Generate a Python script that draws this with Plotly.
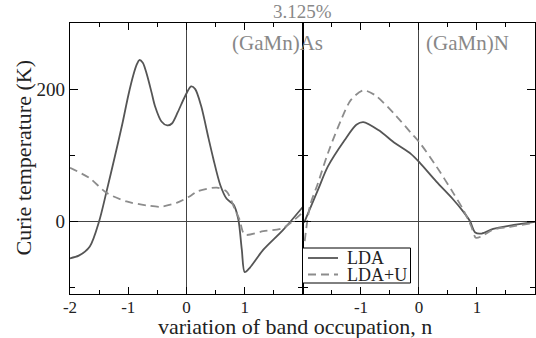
import plotly.graph_objects as go

# (GaMn)As panel
as_x = [-2.0, -1.85, -1.66, -1.5, -1.37, -1.23, -1.1, -1.0, -0.91, -0.85, -0.81, -0.75,
        -0.68, -0.6, -0.54, -0.43, -0.33, -0.25, -0.15, -0.02, 0.08, 0.15, 0.25, 0.38,
        0.46, 0.58, 0.69, 0.81, 0.89, 0.95, 1.0, 1.09, 1.32, 1.66, 2.0]
as_lda = [-56, -52, -38, 0, 46, 98, 148, 190, 222, 238, 244, 240,
          222, 195, 174, 151, 145, 148, 165, 190, 204, 200, 175, 125,
          95, 55, 34, 25, 3, -43, -77, -70, -43, -13, 22]
as_u_x = [-2.0, -1.66, -1.37, -1.03, -0.68, -0.45, -0.17, 0.06, 0.18, 0.52, 0.69, 0.83,
          0.91, 1.0, 1.32, 1.66, 2.0]
as_ldau = [81, 65, 43, 30, 24, 22, 28, 38, 45, 51, 45, 18,
           3, -20, -15, -10, 14]

# (GaMn)N panel
n_x = [-1.98, -1.74, -1.57, -1.28, -1.08, -0.96, -0.7, -0.41, -0.14, 0.02, 0.3, 0.59,
       0.76, 0.88, 0.97, 1.08, 1.28, 1.57, 2.0]
n_lda = [-2, 48, 83, 123, 146, 150, 138, 118, 102, 88, 60, 33,
         15, 0, -17, -18.5, -11.5, -6.5, -1]
n_u_x = [-1.97, -1.88, -1.74, -1.57, -1.34, -1.17, -0.96, -0.76, -0.41, -0.14, 0.02, 0.3,
         0.59, 0.76, 0.9, 0.98, 1.08, 1.28, 1.57, 2.0]
n_ldau = [-30, 23, 58, 103, 154, 184, 198, 191, 161, 134, 118, 83,
          43, 18, -7.5, -25, -22.7, -12.5, -8.5, -2]

x_ticks = [-2, -1, 0, 1, 2]
x_labels_left = ["-2", "-1", "0", "1", ""]
x_labels_right = ["", "-1", "0", "1", "2"]
x_minor = [-1.5, -0.5, 0.5, 1.5]
y_ticks = [0, 200]
y_labels = ["0", "200"]
y_minor = [-100, 100]
series_names = ["LDA", "LDA+U"]

FONT = "Liberation Serif"
SOLID = "#555555"
DASHED = "#8c8c8c"
DASH = "8px,5px"

line_solid = dict(color=SOLID, width=1.8, shape="spline", smoothing=0.8)
line_dashed = dict(color=DASHED, width=1.8, dash=DASH, shape="spline", smoothing=0.8)

fig = go.Figure()
fig.add_trace(go.Scatter(x=as_x, y=as_lda, mode="lines", name=series_names[0],
                         line=line_solid, xaxis="x", yaxis="y"))
fig.add_trace(go.Scatter(x=as_u_x, y=as_ldau, mode="lines", name=series_names[1],
                         line=line_dashed, xaxis="x", yaxis="y"))
fig.add_trace(go.Scatter(x=n_x, y=n_lda, mode="lines", name=series_names[0],
                         line=line_solid, xaxis="x2", yaxis="y2"))
fig.add_trace(go.Scatter(x=n_u_x, y=n_ldau, mode="lines", name=series_names[1],
                         line=line_dashed, xaxis="x2", yaxis="y2"))

split = 0.501
common_x = dict(range=[-2, 2], tickmode="array", tickvals=x_ticks,
                ticks="inside", ticklen=7, tickwidth=1, tickcolor="black",
                ticklabelstandoff=-3,
                showline=True, linecolor="black", linewidth=1.2, mirror="allticks",
                showgrid=False, zeroline=True, zerolinecolor="#444444", zerolinewidth=1,
                minor=dict(tickvals=x_minor, ticks="inside", ticklen=4, tickcolor="black"),
                tickfont=dict(family=FONT, size=17, color="#222222"), fixedrange=True)
common_y = dict(range=[-110, 300], tickmode="array", tickvals=y_ticks,
                ticks="inside", ticklen=8, tickwidth=1, tickcolor="black",
                showline=True, linecolor="black", linewidth=1.2, mirror="allticks",
                showgrid=False, zeroline=True, zerolinecolor="#444444", zerolinewidth=1,
                minor=dict(tickvals=y_minor, ticks="inside", ticklen=5, tickcolor="black"),
                tickfont=dict(family=FONT, size=19, color="#222222"), fixedrange=True)


def px_x(p):
    return (p - 70) / 465.0


def px_y(p):
    return (294 - p) / 271.0


# Framed key in the lower-left corner of the nitride panel
legend_shapes = [
    dict(type="rect", xref="paper", yref="paper", x0=px_x(302.5), x1=px_x(410.5),
         y0=px_y(283), y1=px_y(248), line=dict(color="black", width=1), fillcolor="white",
         layer="above"),
    dict(type="line", xref="paper", yref="paper", x0=px_x(308), x1=px_x(338),
         y0=px_y(258), y1=px_y(258), line=dict(color=SOLID, width=1.8), layer="above"),
    dict(type="line", xref="paper", yref="paper", x0=px_x(308), x1=px_x(338),
         y0=px_y(274.5), y1=px_y(274.5), line=dict(color=DASHED, width=1.8, dash=DASH),
         layer="above"),
]
legend_labels = [
    dict(text=series_names[0], xref="paper", yref="paper", x=px_x(345), y=px_y(258),
         xanchor="left", yanchor="middle", showarrow=False,
         font=dict(family=FONT, size=18, color="#222222")),
    dict(text=series_names[1], xref="paper", yref="paper", x=px_x(345), y=px_y(274.5),
         xanchor="left", yanchor="middle", showarrow=False,
         font=dict(family=FONT, size=18, color="#222222")),
]

fig.update_layout(
    width=536, height=338,
    margin=dict(l=70, r=1, t=23, b=44),
    paper_bgcolor="white", plot_bgcolor="white",
    font=dict(family=FONT, color="#222222"),
    xaxis=dict(common_x, domain=[0, split], ticktext=x_labels_left, anchor="y"),
    xaxis2=dict(common_x, domain=[split, 1], ticktext=x_labels_right, anchor="y2"),
    yaxis=dict(common_y, ticktext=y_labels, anchor="x"),
    yaxis2=dict(common_y, ticktext=y_labels, showticklabels=False, anchor="x2", matches="y"),
    showlegend=False,
    shapes=legend_shapes,
    annotations=[
        dict(text="3.125%", xref="paper", yref="paper", x=split, y=1.0, yshift=-1,
             xanchor="center", yanchor="bottom", showarrow=False,
             font=dict(family=FONT, size=19, color="#888888")),
        dict(text="(GaMn)As", xref="paper", yref="paper", x=0.344, y=0.927,
             xanchor="left", yanchor="middle", showarrow=False,
             font=dict(family=FONT, size=21, color="#888888")),
        dict(text="(GaMn)N", xref="paper", yref="paper", x=0.762, y=0.927,
             xanchor="left", yanchor="middle", showarrow=False,
             font=dict(family=FONT, size=21, color="#888888")),
        dict(text="variation of band occupation, n", xref="paper", yref="paper",
             x=0.484, y=0, yshift=-32, xanchor="center", yanchor="middle", showarrow=False,
             font=dict(family=FONT, size=22, color="#222222")),
        dict(text="Curie temperature (K)", xref="paper", yref="paper",
             x=0, xshift=-47, y=0.5, xanchor="center", yanchor="middle", textangle=-90,
             showarrow=False, font=dict(family=FONT, size=22, color="#222222")),
    ] + legend_labels,
)

fig.write_html("out.html")
